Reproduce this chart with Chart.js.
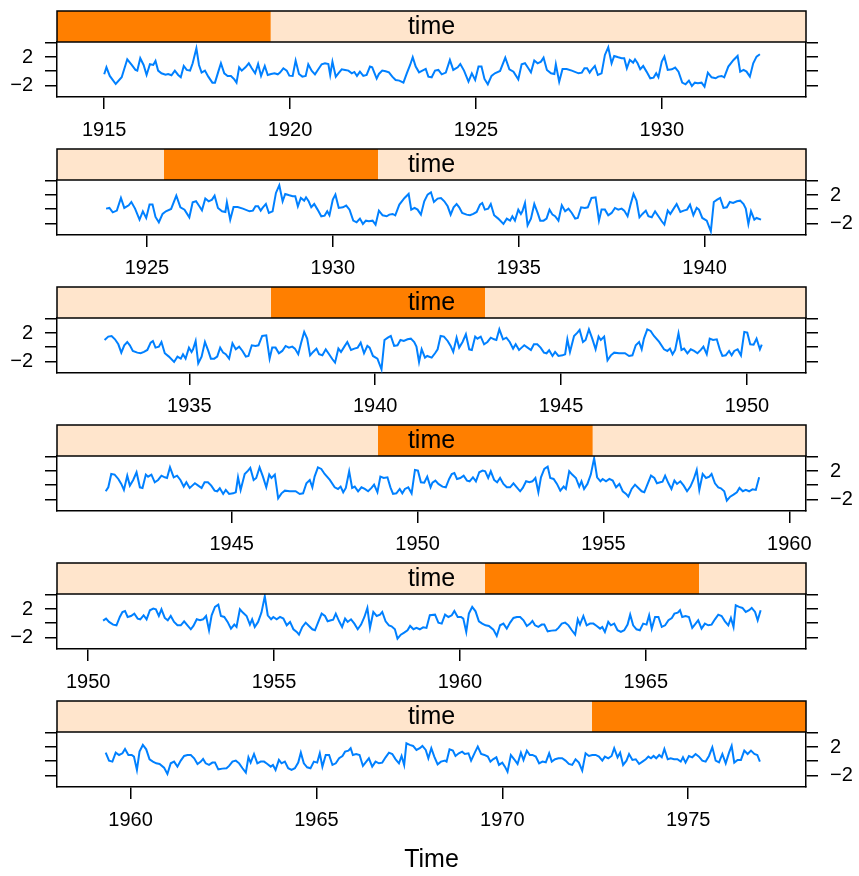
<!DOCTYPE html>
<html>
<head>
<meta charset="utf-8">
<title>time shingle panels</title>
<script src="https://cdn.jsdelivr.net/npm/chart.js@4.4.1/dist/chart.umd.min.js"></script>
<style>
  body { margin: 0; background: #fff; }
  #wrap { position: relative; width: 859px; height: 876px; }
  #wrap canvas { position: absolute; left: 0; }
</style>
</head>
<body>
<div id="wrap"></div>
<script>
// series, [decimal year, value]
const series1915 = [
  [1915.00,-0.45],[1915.06,0.54],[1915.15,-0.68],[1915.31,-1.82],[1915.47,-0.87],[1915.62,1.67],[1915.74,0.87],[1915.84,0.17],[1915.89,0.07],[1915.97,1.82],
  [1916.06,0.87],[1916.14,-0.54],[1916.23,0.97],[1916.32,0.87],[1916.38,1.44],[1916.45,0.07],[1916.54,-0.31],[1916.65,-0.50],[1916.72,-0.40],[1916.81,-0.59],
  [1916.90,0.07],[1916.99,-0.54],[1917.06,-0.87],[1917.14,0.73],[1917.22,0.17],[1917.31,0.07],[1917.38,1.11],[1917.48,3.23],[1917.55,0.87],[1917.62,-0.21],
  [1917.71,0.07],[1917.80,-0.78],[1917.91,-1.63],[1917.98,-1.63],[1918.07,-0.07],[1918.14,1.11],[1918.23,-0.31],[1918.32,-0.68],[1918.41,-0.68],[1918.50,-1.16],
  [1918.56,-1.63],[1918.63,0.54],[1918.70,0.07],[1918.80,0.54],[1918.89,1.11],[1918.97,0.40],[1919.06,-0.31],[1919.14,1.01],[1919.22,-0.68],[1919.32,0.73],
  [1919.40,-0.54],[1919.49,-0.40],[1919.58,-0.31],[1919.67,-0.45],[1919.73,-0.21],[1919.82,0.40],[1919.91,0.07],[1919.98,-0.64],[1920.07,-0.68],[1920.15,1.49],
  [1920.24,-0.40],[1920.33,-0.78],[1920.42,-0.68],[1920.49,0.97],[1920.58,0.07],[1920.67,-0.45],[1920.76,0.26],[1920.85,0.97],[1920.94,1.11],[1921.03,1.01],
  [1921.08,-0.54],[1921.14,1.34],[1921.23,-0.78],[1921.30,-0.31],[1921.39,0.26],[1921.48,0.17],[1921.57,0.07],[1921.66,-0.31],[1921.73,-0.12],[1921.80,-0.68],
  [1921.88,-0.07],[1921.97,-0.68],[1922.06,-0.54],[1922.15,0.64],[1922.21,0.54],[1922.33,-1.06],[1922.39,-0.40],[1922.48,0.07],[1922.57,-0.02],[1922.66,-0.17],
  [1922.75,-0.78],[1922.84,-1.25],[1922.94,-1.34],[1923.05,-1.63],[1923.14,-0.31],[1923.23,0.87],[1923.30,1.96],[1923.38,0.64],[1923.47,-0.17],[1923.56,0.07],
  [1923.65,0.31],[1923.72,-0.78],[1923.81,-0.87]
];
const series1924 = [
  [1923.90,0.07],[1923.99,0.17],[1924.08,-0.45],[1924.19,-0.21],[1924.30,1.58],[1924.39,0.17],[1924.51,0.54],[1924.58,1.01],[1924.68,0.07],[1924.80,-1.49],
  [1924.89,-0.31],[1924.98,-1.25],[1925.07,0.64],[1925.15,0.64],[1925.23,-1.11],[1925.32,-1.86],[1925.42,-0.68],[1925.51,-0.31],[1925.65,0.02],[1925.79,1.91],
  [1925.90,0.26],[1926.01,-0.07],[1926.14,-1.16],[1926.23,0.97],[1926.32,1.11],[1926.41,0.40],[1926.48,-0.17],[1926.57,1.49],[1926.66,1.11],[1926.75,1.34],
  [1926.82,1.91],[1926.91,0.17],[1927.02,-0.31],[1927.11,-0.40],[1927.15,0.97],[1927.24,-1.49],[1927.33,0.31],[1927.44,0.31],[1927.58,0.07],[1927.76,-0.31],
  [1927.85,-0.21],[1927.92,0.40],[1927.99,0.40],[1928.06,-0.21],[1928.11,0.17],[1928.20,0.73],[1928.28,-0.54],[1928.38,-0.31],[1928.47,2.29],[1928.56,3.37],
  [1928.65,1.11],[1928.72,2.15],[1928.83,1.96],[1928.92,1.82],[1928.99,1.82],[1929.06,0.40],[1929.14,1.58],[1929.23,1.20],[1929.28,1.67],[1929.35,1.11],
  [1929.42,0.26],[1929.50,0.73],[1929.59,-0.07],[1929.69,-1.01],[1929.78,-0.92],[1929.85,-0.31],[1929.91,-0.87],[1930.00,1.34],[1930.07,2.05],[1930.16,0.17],
  [1930.27,0.26],[1930.36,0.50],[1930.45,-0.07],[1930.55,-1.63],[1930.64,-1.86],[1930.73,-1.34],[1930.81,-2.10],[1930.89,-1.63],[1930.97,-1.72],[1931.07,-1.63],
  [1931.15,-2.19],[1931.24,-0.21],[1931.34,-0.87],[1931.45,-1.01],[1931.52,-0.78],[1931.61,-0.68],[1931.68,-0.87],[1931.79,0.64],[1931.93,1.58],[1932.04,2.15],
  [1932.11,-0.07],[1932.20,0.17],[1932.28,-0.07],[1932.37,-0.78],[1932.46,1.11],[1932.55,2.05],[1932.64,2.38]
];
const series1933 = [
  [1932.72,1.01],[1932.82,1.49],[1932.91,1.58],[1933.00,1.11],[1933.09,0.40],[1933.17,-0.78],[1933.25,0.26],[1933.33,0.73],[1933.40,0.26],[1933.48,-0.54],
  [1933.60,-0.78],[1933.69,-0.87],[1933.78,-0.68],[1933.87,-0.40],[1933.96,0.64],[1934.02,0.87],[1934.09,-0.07],[1934.18,0.07],[1934.25,0.73],[1934.34,-0.87],
  [1934.45,-1.34],[1934.59,-2.10],[1934.68,-1.34],[1934.77,-1.63],[1934.83,-1.01],[1934.90,-1.63],[1934.99,-0.07],[1935.06,-0.68],[1935.10,-0.31],[1935.17,0.87],
  [1935.24,-2.29],[1935.33,-1.34],[1935.42,0.73],[1935.51,-0.54],[1935.58,-1.63],[1935.67,-1.63],[1935.75,-1.34],[1935.83,-0.07],[1935.91,-0.78],[1935.98,-1.01],
  [1936.07,-1.63],[1936.16,0.54],[1936.25,-0.31],[1936.34,0.07],[1936.43,-0.54],[1936.52,-1.34],[1936.59,-1.25],[1936.68,0.26],[1936.78,0.17],[1936.86,0.26],
  [1936.96,1.58],[1937.07,1.67],[1937.16,-1.63],[1937.23,-0.07],[1937.32,-0.07],[1937.41,-0.87],[1937.50,-0.54],[1937.59,0.17],[1937.68,-0.07],[1937.77,0.07],
  [1937.84,-0.21],[1937.93,-1.01],[1938.01,0.64],[1938.09,2.15],[1938.17,1.20],[1938.25,-1.16],[1938.33,-0.68],[1938.42,-0.21],[1938.49,-1.01],[1938.58,-1.16],
  [1938.67,-0.31],[1938.76,-1.01],[1938.85,-1.72],[1938.92,-2.19],[1939.01,-0.21],[1939.08,-0.68],[1939.17,0.07],[1939.25,0.73],[1939.35,-0.40],[1939.44,-0.21],
  [1939.53,-0.07],[1939.61,0.64],[1939.70,-0.87],[1939.79,0.17],[1939.85,-0.07],[1939.94,-1.25],[1940.06,-1.63],[1940.17,-3.14],[1940.25,1.01],[1940.34,1.34],
  [1940.42,1.58],[1940.51,0.17],[1940.60,0.26],[1940.68,1.01],[1940.77,0.87],[1940.87,1.11],[1940.96,1.20],[1941.05,0.73],[1941.11,0.07],[1941.18,-2.10],
  [1941.25,-0.31],[1941.34,-1.49],[1941.40,-1.25]
];
const series1942 = [
  [1941.52,-1.49],[1941.61,-0.87],[1941.68,-0.31],[1941.76,1.58],[1941.85,1.49],[1941.95,0.87],[1942.03,0.17],[1942.10,-0.68],[1942.19,1.34],[1942.26,-0.07],
  [1942.35,0.73],[1942.44,1.82],[1942.53,-0.31],[1942.60,-0.40],[1942.69,1.49],[1942.75,1.20],[1942.84,1.49],[1942.93,0.40],[1943.02,0.73],[1943.11,1.34],
  [1943.20,1.11],[1943.26,1.01],[1943.34,2.52],[1943.44,1.11],[1943.53,1.34],[1943.62,0.73],[1943.71,-0.21],[1943.78,0.40],[1943.87,-0.40],[1943.94,-0.07],
  [1944.01,0.26],[1944.10,-0.07],[1944.19,-0.40],[1944.27,0.40],[1944.36,0.40],[1944.45,-0.07],[1944.54,-0.78],[1944.61,-0.87],[1944.68,-0.45],[1944.77,-1.25],
  [1944.84,-0.68],[1944.93,-1.25],[1945.04,-1.16],[1945.11,-1.01],[1945.17,1.11],[1945.24,-0.68],[1945.35,1.58],[1945.44,2.05],[1945.50,2.43],[1945.59,0.73],
  [1945.66,1.01],[1945.75,2.52],[1945.84,1.20],[1945.93,-0.31],[1946.01,1.49],[1946.07,1.01],[1946.16,1.49],[1946.25,-1.86],[1946.34,-1.16],[1946.43,-0.78],
  [1946.56,-0.87],[1946.72,-0.87],[1946.83,-1.25],[1946.92,-1.16],[1947.01,0.26],[1947.10,0.73],[1947.17,-0.31],[1947.23,1.20],[1947.32,2.52],[1947.41,2.29],
  [1947.50,1.58],[1947.64,0.73],[1947.77,-0.31],[1947.86,-0.54],[1947.93,-0.21],[1948.00,-1.01],[1948.07,-0.40],[1948.16,1.96],[1948.24,-0.40],[1948.31,-0.21],
  [1948.40,-0.87],[1948.49,-0.31],[1948.58,-0.54],[1948.67,-0.87],[1948.76,-0.40],[1948.83,0.07],[1948.92,-1.01],[1949.00,1.20],[1949.09,1.01],[1949.19,1.11],
  [1949.27,-0.31],[1949.34,-1.25],[1949.43,-1.16],[1949.52,-0.54],[1949.59,-1.16],[1949.66,-0.54],[1949.75,-0.31],[1949.84,-1.16],[1949.93,2.15],[1950.01,2.05],
  [1950.09,0.40],[1950.18,0.35],[1950.26,1.20],[1950.35,-0.31]
];
const series1950 = [
  [1950.40,0.35],[1950.48,0.64],[1950.56,0.17],[1950.67,-0.21],[1950.76,-0.31],[1950.85,0.87],[1950.92,1.58],[1950.99,1.72],[1951.06,0.87],[1951.15,1.01],
  [1951.24,1.34],[1951.33,0.64],[1951.40,0.54],[1951.49,1.11],[1951.57,0.54],[1951.66,1.82],[1951.75,2.05],[1951.82,1.96],[1951.90,1.01],[1951.97,1.96],
  [1952.06,0.73],[1952.14,0.40],[1952.22,1.01],[1952.31,0.17],[1952.40,-0.31],[1952.49,-0.31],[1952.58,0.26],[1952.67,-0.31],[1952.76,-0.87],[1952.83,-0.40],
  [1952.92,0.54],[1953.01,0.40],[1953.09,0.54],[1953.17,1.01],[1953.25,-1.01],[1953.32,1.11],[1953.41,2.29],[1953.50,2.62],[1953.57,1.01],[1953.66,0.87],
  [1953.75,0.17],[1953.84,-0.78],[1953.93,-0.21],[1953.99,-0.54],[1954.08,1.96],[1954.16,1.49],[1954.26,1.01],[1954.35,-0.21],[1954.41,0.54],[1954.48,-0.54],
  [1954.57,0.17],[1954.66,1.49],[1954.75,3.80],[1954.83,1.11],[1954.92,0.54],[1954.98,0.87],[1955.07,0.54],[1955.16,0.87],[1955.25,0.64],[1955.34,-0.31],
  [1955.43,0.17],[1955.52,-0.87],[1955.61,-1.25],[1955.67,-1.63],[1955.76,-0.54],[1955.85,0.07],[1955.94,-0.40],[1956.03,-0.87],[1956.10,-1.01],[1956.19,0.17],
  [1956.28,1.34],[1956.37,1.01],[1956.44,0.26],[1956.53,0.40],[1956.59,0.50],[1956.66,1.34],[1956.75,0.26],[1956.83,-0.54],[1956.91,0.64],[1956.98,0.17],
  [1957.07,0.54],[1957.16,-0.07],[1957.25,-0.87],[1957.34,-0.21],[1957.43,0.87],[1957.51,2.15],[1957.58,-0.68],[1957.67,1.58],[1957.76,1.01],[1957.85,1.20],
  [1957.91,1.58],[1958.00,0.26],[1958.09,-0.31],[1958.16,-0.45],[1958.25,-0.87],[1958.32,-2.19],[1958.41,-1.63],[1958.50,-1.34],[1958.59,-1.01],[1958.66,-0.40],
  [1958.75,-0.87],[1958.83,-0.68],[1958.92,-0.87],[1959.01,-0.59],[1959.10,-0.68],[1959.19,1.11],[1959.33,1.20]
];
const series1959 = [
  [1959.42,0.07],[1959.51,-0.07],[1959.60,1.20],[1959.69,0.87],[1959.78,1.11],[1959.85,1.72],[1959.94,0.87],[1960.03,0.87],[1960.09,0.64],[1960.17,-1.25],
  [1960.24,1.34],[1960.33,2.29],[1960.42,1.67],[1960.51,0.26],[1960.60,-0.07],[1960.69,-0.31],[1960.78,-0.40],[1960.90,-0.92],[1960.99,-1.82],[1961.08,-0.31],
  [1961.17,-0.07],[1961.26,-0.78],[1961.35,0.07],[1961.44,0.73],[1961.53,0.87],[1961.62,0.87],[1961.71,0.40],[1961.80,-0.40],[1961.89,-0.07],[1961.95,0.31],
  [1962.02,-0.31],[1962.11,-0.54],[1962.20,-0.21],[1962.27,-0.21],[1962.36,-1.16],[1962.47,-1.06],[1962.58,-1.01],[1962.65,-0.68],[1962.74,-0.07],[1962.83,0.07],
  [1962.92,-0.31],[1963.01,-1.01],[1963.10,-1.63],[1963.17,0.54],[1963.23,-0.21],[1963.32,1.01],[1963.41,-0.31],[1963.50,-0.07],[1963.59,-0.07],[1963.68,-0.40],
  [1963.77,-0.78],[1963.83,-0.54],[1963.90,-1.25],[1963.99,0.17],[1964.06,-0.31],[1964.15,-0.07],[1964.24,-1.01],[1964.33,-1.25],[1964.42,-1.01],[1964.51,-0.21],
  [1964.58,1.20],[1964.66,-0.31],[1964.75,-0.87],[1964.84,-1.01],[1964.93,-0.07],[1965.02,-0.21],[1965.09,1.11],[1965.16,-0.78],[1965.25,0.87],[1965.34,0.87],
  [1965.43,-0.54],[1965.52,-0.31],[1965.61,0.40],[1965.70,0.73],[1965.77,1.34],[1965.86,1.49],[1965.92,1.82],[1965.98,0.87],[1966.07,1.01],[1966.16,0.87],
  [1966.25,-0.68],[1966.34,-0.07],[1966.41,0.40],[1966.50,-0.78],[1966.59,-0.07],[1966.68,-0.31],[1966.77,-0.21],[1966.86,0.54],[1966.95,1.20],[1967.04,1.01],
  [1967.13,0.26],[1967.22,-0.31],[1967.29,0.73],[1967.36,-0.54],[1967.42,2.52],[1967.51,2.29],[1967.60,2.15],[1967.69,1.58],[1967.78,1.82],[1967.85,2.15],
  [1967.94,1.58],[1968.01,0.40],[1968.09,1.82]
];
const series1968 = [
  [1968.17,0.64],[1968.26,-0.45],[1968.35,-0.07],[1968.46,0.07],[1968.50,-0.07],[1968.58,1.67],[1968.67,1.49],[1968.74,0.73],[1968.83,1.11],[1968.92,1.34],
  [1968.99,1.01],[1969.09,1.11],[1969.16,0.07],[1969.26,1.20],[1969.34,2.05],[1969.43,1.01],[1969.52,0.87],[1969.61,0.64],[1969.68,-0.07],[1969.75,0.26],
  [1969.84,0.54],[1969.91,-0.54],[1970.00,-0.21],[1970.07,-0.78],[1970.14,-1.49],[1970.23,0.87],[1970.32,0.26],[1970.41,-0.40],[1970.50,1.20],[1970.57,0.17],
  [1970.66,1.49],[1970.74,0.87],[1970.81,0.87],[1970.90,0.64],[1970.99,-0.31],[1971.08,-0.07],[1971.17,-0.17],[1971.26,1.11],[1971.33,-0.07],[1971.42,0.26],
  [1971.51,0.40],[1971.61,0.40],[1971.70,0.07],[1971.79,-0.40],[1971.88,-0.54],[1971.97,0.26],[1972.06,-0.21],[1972.15,-1.34],[1972.24,1.11],[1972.33,0.73],
  [1972.42,0.87],[1972.51,0.87],[1972.60,0.64],[1972.69,0.07],[1972.76,0.64],[1972.85,0.40],[1972.94,0.73],[1973.01,1.82],[1973.10,0.54],[1973.17,1.20],
  [1973.25,-0.54],[1973.34,0.07],[1973.41,1.01],[1973.50,0.17],[1973.59,0.26],[1973.68,-0.40],[1973.77,-0.07],[1973.86,0.26],[1973.93,0.64],[1974.00,0.40],
  [1974.07,0.73],[1974.14,0.40],[1974.22,0.87],[1974.29,0.54],[1974.36,1.72],[1974.45,0.26],[1974.53,0.40],[1974.62,0.26],[1974.71,0.26],[1974.80,-0.07],
  [1974.86,0.54],[1974.93,-0.21],[1975.02,0.73],[1975.11,0.54],[1975.20,1.01],[1975.29,0.64],[1975.38,0.07],[1975.47,-0.07],[1975.56,0.73],[1975.65,1.96],
  [1975.74,0.07],[1975.83,-0.17],[1975.92,1.01],[1976.01,-0.31],[1976.10,1.20],[1976.17,2.15],[1976.24,-0.21],[1976.33,0.17],[1976.42,0.17],[1976.51,1.49],
  [1976.60,1.01],[1976.69,1.49],[1976.78,1.01],[1976.86,0.87],[1976.93,-0.07]
];

// shingle levels: time range shown in each panel
const levelStart = [1915.00, 1923.85, 1932.70, 1941.55, 1950.40, 1959.25];
const levelEnd   = [1932.67, 1941.55, 1950.40, 1959.30, 1968.10, 1976.95];
// x limits of each panel
const panelMin = [1913.73, 1922.58, 1931.44, 1940.30, 1949.16, 1958.02];
const panelMax = [1933.88, 1942.73, 1951.59, 1960.45, 1969.31, 1978.17];
const xTickYears = [1915, 1920, 1925, 1930, 1935, 1940, 1945, 1950, 1955, 1960, 1965, 1970, 1975];
const yTickValues = [-2, 0, 2, 4];
const yTickLabels = ['\u22122', '', '2', ''];
const yRange = [-3.66, 4.12];
const stripLabel = 'time';
const xLabel = 'Time';

const obs = [].concat(series1915, series1924, series1933, series1942, series1950, series1959, series1968);

const family = '"Liberation Sans", Arial, Helvetica, sans-serif';
const axisFont = { family: family, size: 20 };
Chart.defaults.font.family = family;

// shingle strip above each panel, orange part placed on the full-range scale "xs"
const stripPlugin = {
  id: 'strip',
  afterDraw(chart, args, opts) {
    const { ctx, chartArea } = chart;
    const xs = chart.scales.xs;
    const h = 31, top = chartArea.top - h;
    ctx.save();
    ctx.fillStyle = '#FFE5CC';
    ctx.fillRect(chartArea.left, top, chartArea.width, h);
    const a = xs.getPixelForValue(opts.start);
    const b = xs.getPixelForValue(opts.end);
    ctx.fillStyle = '#FF7F00';
    ctx.fillRect(a, top, b - a, h);
    ctx.strokeStyle = '#000';
    ctx.lineWidth = 1.5;
    ctx.strokeRect(chartArea.left, top, chartArea.width, h);
    ctx.fillStyle = '#000';
    ctx.font = '25px ' + family;
    ctx.textAlign = 'center';
    ctx.textBaseline = 'middle';
    ctx.fillText(stripLabel, (chartArea.left + chartArea.right) / 2, top + h / 2 + 1);
    ctx.restore();
  }
};

function yAxis(pos, labelled) {
  return {
    type: 'linear', position: pos, min: yRange[0], max: yRange[1],
    afterBuildTicks: s => { s.ticks = yTickValues.map(v => ({ value: v })); },
    afterFit: s => { s.width = pos === 'left' ? 57 : 53; },
    grid: { drawOnChartArea: false, drawTicks: true, tickLength: 12, color: '#000', lineWidth: 1.5 },
    border: { display: true, color: '#000', width: 1.5 },
    ticks: {
      padding: 12, color: '#000', font: axisFont, autoSkip: false,
      callback: v => labelled ? yTickLabels[yTickValues.indexOf(v)] : ''
    }
  };
}

const wrap = document.getElementById('wrap');
for (let k = 0; k < 6; k++) {
  const last = k === 5;
  const h = last ? 186 : 138;
  const canvas = document.createElement('canvas');
  canvas.width = 859;
  canvas.height = h;
  canvas.style.top = (138 * k) + 'px';
  wrap.appendChild(canvas);

  const pts = obs
    .filter(p => p[0] >= levelStart[k] && p[0] <= levelEnd[k])
    .map(p => ({ x: p[0], y: p[1] }));
  const leftLabels = k % 2 === 0;

  new Chart(canvas, {
    type: 'line',
    data: {
      datasets: [{
        data: pts, borderColor: '#0080FF', borderWidth: 2, pointRadius: 0,
        fill: false, tension: 0, xAxisID: 'x', yAxisID: 'y'
      }]
    },
    options: {
      responsive: false, animation: false, events: [],
      layout: { autoPadding: false, padding: { top: 42, left: 0, right: 0, bottom: 0 } },
      plugins: {
        legend: { display: false }, tooltip: { enabled: false },
        strip: { start: levelStart[k], end: levelEnd[k] }
      },
      scales: {
        x: {
          type: 'linear', position: 'bottom', min: panelMin[k], max: panelMax[k],
          afterBuildTicks: s => {
            s.ticks = xTickYears.filter(v => v >= s.min && v <= s.max).map(v => ({ value: v }));
          },
          afterFit: s => { s.height = h - 97; },
          grid: { drawOnChartArea: false, drawTicks: true, tickLength: 12, color: '#000', lineWidth: 1.5 },
          border: { display: true, color: '#000', width: 1.5 },
          ticks: { padding: 9, color: '#000', font: axisFont, maxRotation: 0, autoSkip: false, callback: v => String(v) },
          title: { display: last, text: xLabel, color: '#000', font: { family: family, size: 25 }, padding: { top: 0, bottom: 1 } }
        },
        xs: { type: 'linear', display: false, min: levelStart[0], max: levelEnd[5] },
        y: yAxis('left', leftLabels),
        y2: yAxis('right', !leftLabels)
      }
    },
    plugins: [stripPlugin]
  });
}
</script>
</body>
</html>
